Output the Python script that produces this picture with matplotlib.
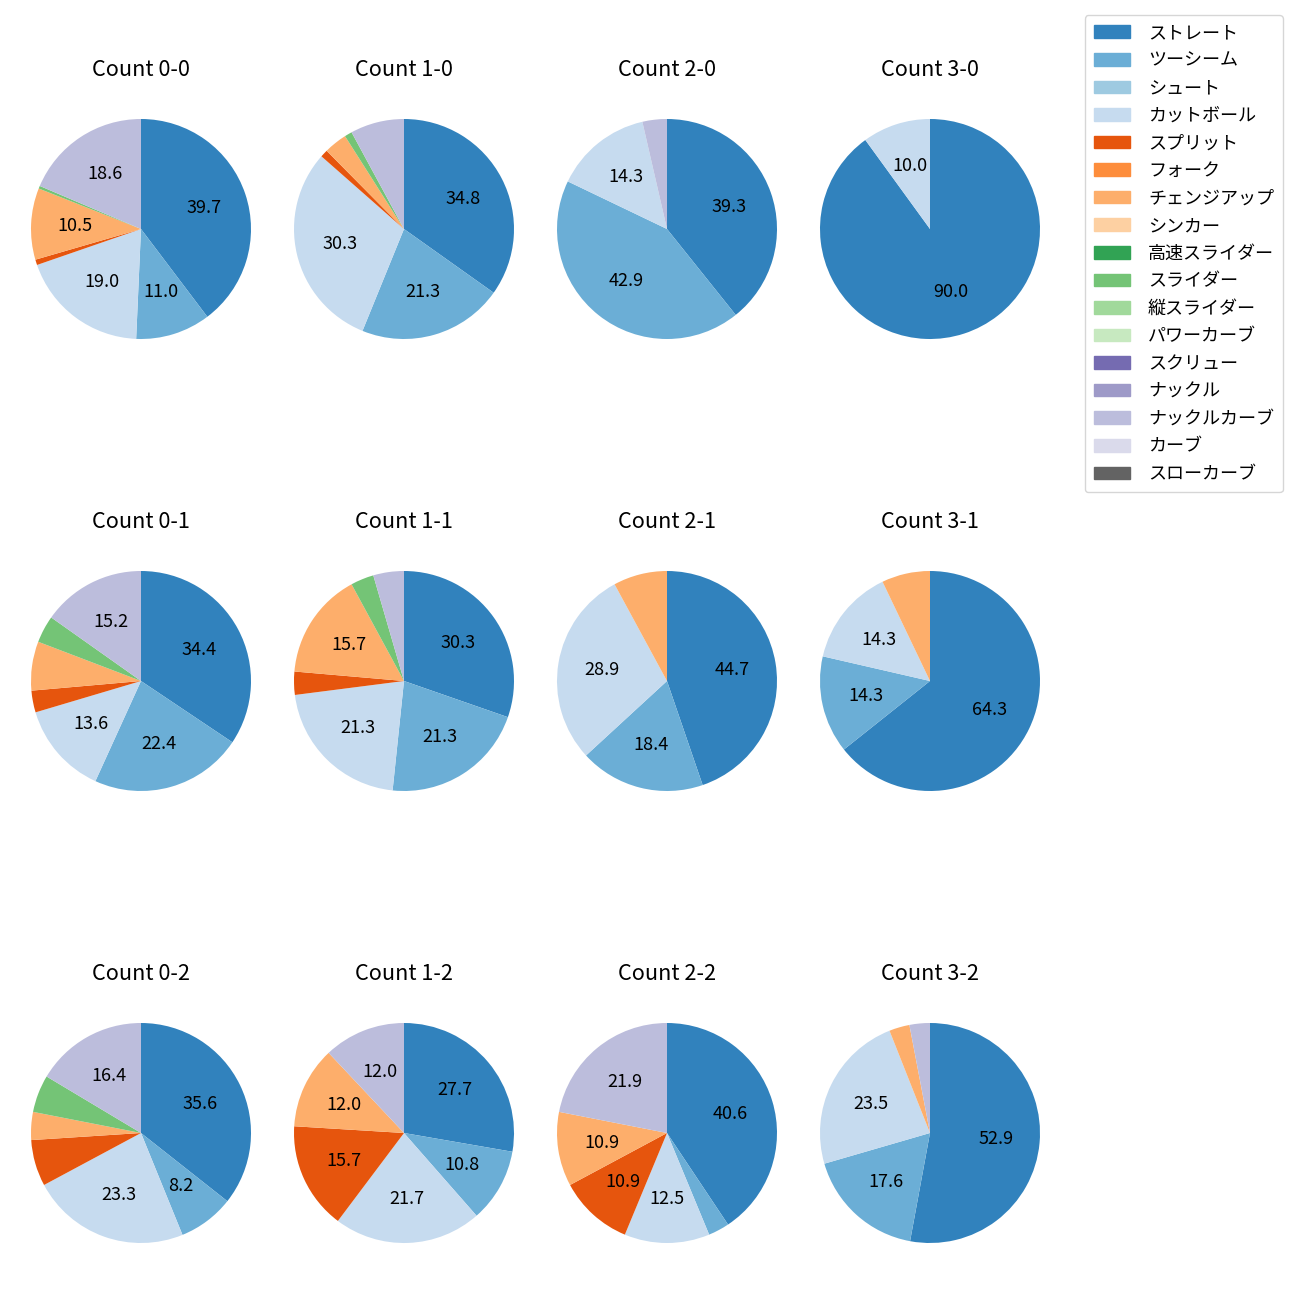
import matplotlib.pyplot as plt
from matplotlib.patches import Patch

plt.rcParams["font.family"] = ["Noto Sans CJK JP", "DejaVu Sans"]

pitch_types = ["ストレート", "ツーシーム", "シュート", "カットボール", "スプリット", "フォーク",
               "チェンジアップ", "シンカー", "高速スライダー", "スライダー", "縦スライダー",
               "パワーカーブ", "スクリュー", "ナックル", "ナックルカーブ", "カーブ", "スローカーブ"]
pitch_colors = ["#3182bd", "#6baed6", "#9ecae1", "#c6dbef", "#e6550d", "#fd8d3c",
                "#fdae6b", "#fdd0a2", "#31a354", "#74c476", "#a1d99b", "#c7e9c0",
                "#756bb1", "#9e9ac8", "#bcbddc", "#dadaeb", "#636363"]

counts = ["0-0", "1-0", "2-0", "3-0",
          "0-1", "1-1", "2-1", "3-1",
          "0-2", "1-2", "2-2", "3-2"]

# share (%) per pitch type, same order as pitch_types
#            St    2S    Sh  Cut   Spl  Fk  Ch    Sk  HSl Sl   VSl PC Scr Kn  KC    Cv SC
shares = [
    [39.7, 11.0, 0, 19.0, 0.8, 0, 10.5, 0, 0, 0.4, 0, 0, 0, 0, 18.6, 0, 0],
    [34.8, 21.3, 0, 30.3, 1.1, 0, 3.4, 0, 0, 1.1, 0, 0, 0, 0, 7.9, 0, 0],
    [39.3, 42.9, 0, 14.3, 0, 0, 0, 0, 0, 0, 0, 0, 0, 0, 3.6, 0, 0],
    [90.0, 0, 0, 10.0, 0, 0, 0, 0, 0, 0, 0, 0, 0, 0, 0, 0, 0],
    [34.4, 22.4, 0, 13.6, 3.2, 0, 7.2, 0, 0, 4.0, 0, 0, 0, 0, 15.2, 0, 0],
    [30.3, 21.3, 0, 21.3, 3.4, 0, 15.7, 0, 0, 3.4, 0, 0, 0, 0, 4.5, 0, 0],
    [44.7, 18.4, 0, 28.9, 0, 0, 7.9, 0, 0, 0, 0, 0, 0, 0, 0, 0, 0],
    [64.3, 14.3, 0, 14.3, 0, 0, 7.1, 0, 0, 0, 0, 0, 0, 0, 0, 0, 0],
    [35.6, 8.2, 0, 23.3, 6.8, 0, 4.1, 0, 0, 5.5, 0, 0, 0, 0, 16.4, 0, 0],
    [27.7, 10.8, 0, 21.7, 15.7, 0, 12.0, 0, 0, 0, 0, 0, 0, 0, 12.0, 0, 0],
    [40.6, 3.1, 0, 12.5, 10.9, 0, 10.9, 0, 0, 0, 0, 0, 0, 0, 21.9, 0, 0],
    [52.9, 17.6, 0, 23.5, 0, 0, 3.0, 0, 0, 0, 0, 0, 0, 0, 3.0, 0, 0],
]

W = H = 1300
fig = plt.figure(figsize=(13, 13), dpi=100)

box = 275  # px, axes square
for i, (count, vals) in enumerate(zip(counts, shares)):
    r, c = divmod(i, 4)
    cx = 141 + 263 * c
    cy = 229 + 452 * r
    ax = fig.add_axes([(cx - box / 2) / W, 1 - (cy + box / 2) / H, box / W, box / H])
    v = [x for x in vals if x > 0]
    col = [pc for x, pc in zip(vals, pitch_colors) if x > 0]
    ax.pie(v, colors=col, startangle=90, counterclock=False,
           autopct=lambda p: f"{p:.1f}" if p >= 8 else "",
           textprops={"fontsize": 13})
    ax.set_title(f"Count {count}", fontsize=15.6, pad=11)

handles = [Patch(color=pc, label=pt) for pt, pc in zip(pitch_types, pitch_colors)]
fig.legend(handles=handles, loc="upper right", bbox_to_anchor=(1283 / W, 1 - 15 / H),
           borderaxespad=0, fontsize=13, labelspacing=0.53, handletextpad=1.0,
           borderpad=0.5)

fig.savefig("out.png", dpi=100)
